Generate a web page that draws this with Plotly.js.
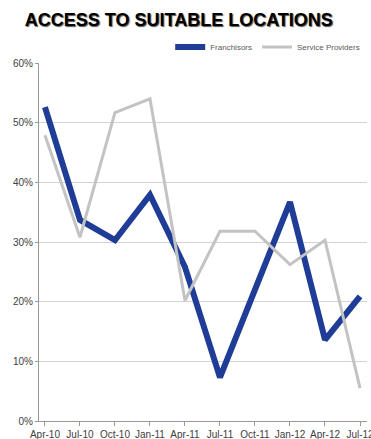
<!DOCTYPE html>
<html>
<head>
<meta charset="utf-8">
<script src="https://cdn.plot.ly/plotly-3.0.1.min.js"></script>
<style>html,body{margin:0;padding:0;background:#fff;}#chart{width:371px;height:439px;}</style>
</head>
<body>
<div id="chart"></div>
<script>
var categories = ["Apr-10","Jul-10","Oct-10","Jan-11","Apr-11","Jul-11","Oct-11","Jan-12","Apr-12","Jul-12"];
var franchisors = [0.526, 0.337, 0.303, 0.379, 0.258, 0.073, 0.220, 0.367, 0.136, 0.209];
var serviceProviders = [0.479, 0.308, 0.517, 0.540, 0.202, 0.318, 0.318, 0.262, 0.303, 0.055];
var yTicks = [0, 0.1, 0.2, 0.3, 0.4, 0.5, 0.6];

var traces = [
  {x: categories, y: franchisors, name: "Franchisors", type: "scatter", mode: "lines",
   line: {color: "#1f3d97", width: 6}},
  {x: categories, y: serviceProviders, name: "Service Providers", type: "scatter", mode: "lines",
   line: {color: "#c3c3c3", width: 3}}
];

var layout = {
  width: 371, height: 439,
  margin: {l: 39, r: 4, t: 63, b: 18, autoexpand: false},
  paper_bgcolor: "#fff", plot_bgcolor: "#fff",
  font: {family: "Liberation Sans, Arial, sans-serif", color: "#404040"},
  title: {text: "<b>ACCESS TO SUITABLE LOCATIONS</b>", x: 0.067, xanchor: "left", xref: "container",
          y: 0.955, yanchor: "middle", yref: "container",
          font: {size: 18, color: "#000", family: "Liberation Sans, Arial, sans-serif", shadow: "1px 1px 1px #555"}},
  showlegend: true,
  legend: {orientation: "h", x: 0.40, xanchor: "left", y: 1.045, yanchor: "middle",
           font: {size: 8, color: "#595959"}, itemwidth: 30, bgcolor: "rgba(0,0,0,0)",
           tracegroupgap: 0},
  xaxis: {type: "category", range: [-0.17, 9.2], showgrid: false, showline: true,
          linecolor: "#999", linewidth: 1, ticks: "outside", ticklen: 4, tickcolor: "#999",
          tickangle: 0, automargin: false,
          tickfont: {size: 10, color: "#404040"}, fixedrange: true},
  yaxis: {range: [0, 0.6], tickvals: yTicks, tickformat: ".0%", showgrid: true,
          gridcolor: "#d3d3d3", gridwidth: 1, showline: true, linecolor: "#999", linewidth: 1,
          ticks: "outside", ticklen: 3, tickcolor: "#999", zeroline: false, automargin: false,
          tickfont: {size: 10, color: "#404040"}, fixedrange: true}
};

Plotly.newPlot("chart", traces, layout, {displayModeBar: false, staticPlot: true});
</script>
</body>
</html>
